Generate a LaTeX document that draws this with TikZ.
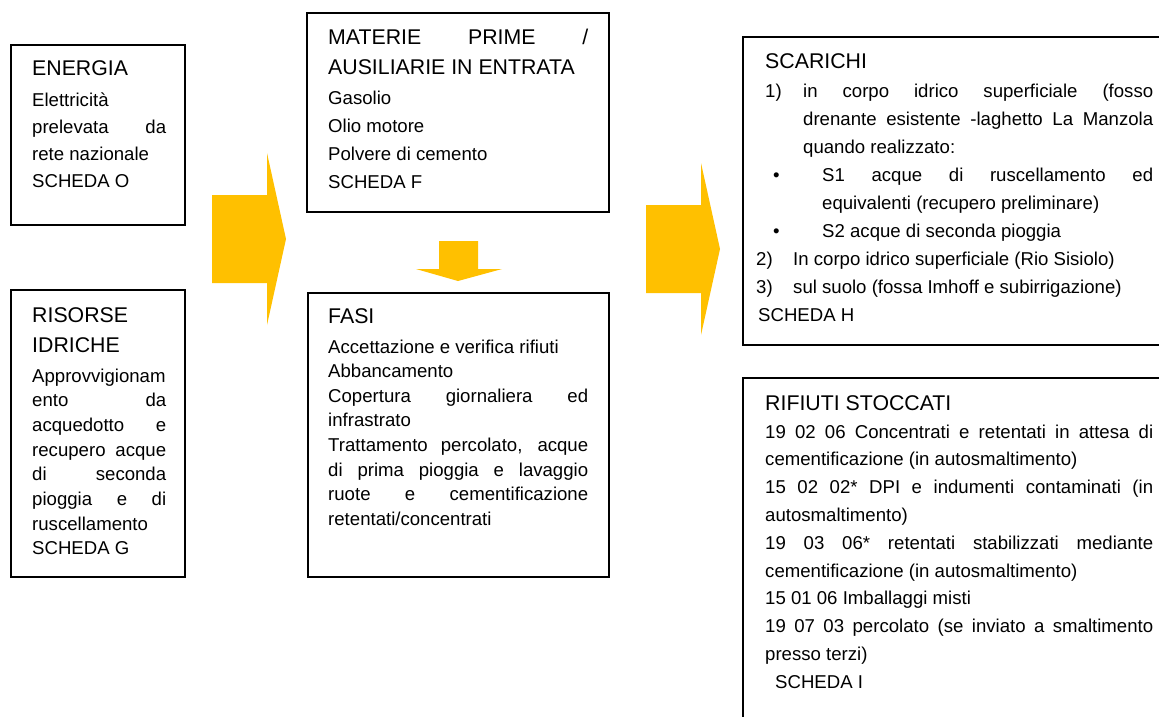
\documentclass[tikz,border=0pt]{standalone}
\usepackage{fontspec}
\setmainfont{Liberation Sans}
\definecolor{gold}{HTML}{FFC000}
\newcommand\hfont{\fontsize{21.3pt}{30pt}\selectfont}
\newcommand\bfont[1]{\fontsize{18.6pt}{#1}\selectfont}
\newcommand\jline[1]{\hbox to\hsize{#1}}
\newcommand\pline[1]{\hbox{#1}}
\newcommand\jrow[4]{\hbox to\hsize{\hbox to #3{\hskip #1\relax #2\hfil}\hbox to \dimexpr\hsize-#3\relax{#4}}}
\newcommand\prow[4]{\hbox{\hbox to #3{\hskip #1\relax #2\hfil}#4}}
\newcommand\blk[2]{\vtop{\hsize=#1\lineskiplimit=-\maxdimen\lineskip=0pt\parindent=0pt #2}}
\tikzset{
  box/.style={draw=black, line width=1.2pt, inner sep=0pt, rectangle},
  txt/.style={inner sep=0pt, anchor=base west},
  barrow/.style={fill=gold, draw=none}
}
\begin{document}
\begin{tikzpicture}[x=1pt,y=-1pt]
\useasboundingbox (0,0) rectangle (1159,717);
\clip (0,0) rectangle (1159,717);
\fill[white] (0,0) rectangle (1159,717);

% boxes
\node[box, minimum width=174pt, minimum height=180pt] (energia) at (98,135) {};
\node[box, minimum width=174pt, minimum height=287pt] (risorse) at (98,433.5) {};
\node[box, minimum width=302pt, minimum height=199pt] (materie) at (458,112.5) {};
\node[box, minimum width=301pt, minimum height=284pt] (fasi) at (458.5,435) {};
\node[box, minimum width=427pt, minimum height=308pt] (scarichi) at (956.5,191) {};
\node[box, minimum width=427pt, minimum height=352pt] (rifiuti) at (956.5,554) {};

% block arrows
\fill[barrow] (212,195) -- (267,195) -- (267,153) -- (286,239) -- (267,325) -- (267,283) -- (212,283) -- cycle;
\fill[barrow] (439,241) -- (478,241) -- (478,269) -- (502,269) -- (458,281) -- (416,269) -- (439,269) -- cycle;
\fill[barrow] (646,205) -- (701,205) -- (701,163) -- (720,249) -- (701,335) -- (701,293) -- (646,293) -- cycle;

% texts
\node[txt] (tenergia) at (32,75) {\blk{134pt}{%
  \hfont\pline{ENERGIA}%
  \bfont{27.3pt}\vskip3.7pt
  \pline{Elettricità}
  \jline{prelevata da}
  \pline{rete nazionale}
  \pline{SCHEDA O}}};

\node[txt] (trisorse) at (32,322) {\blk{134pt}{%
  \hfont\pline{RISORSE}
  \pline{IDRICHE}%
  \bfont{24.7pt}\vskip5.3pt
  \pline{Approvvigionam}
  \jline{ento da}
  \jline{acquedotto e}
  \jline{recupero acque}
  \jline{di seconda}
  \jline{pioggia e di}
  \pline{ruscellamento}
  \pline{SCHEDA G}}};

\node[txt] (tmaterie) at (328,45) {\blk{260pt}{%
  \hfont\jline{MATERIE PRIME /}
  \pline{AUSILIARIE IN ENTRATA}%
  \bfont{27.7pt}\vskip2.3pt
  \pline{Gasolio}
  \pline{Olio motore}
  \pline{Polvere di cemento}
  \pline{SCHEDA F}}};

\node[txt] (tfasi) at (328,323) {\blk{260pt}{%
  \hfont\pline{FASI}%
  \bfont{24.6pt}\vskip5.4pt
  \pline{Accettazione e verifica rifiuti}
  \pline{Abbancamento}
  \jline{Copertura giornaliera ed}
  \pline{infrastrato}
  \jline{Trattamento percolato, acque}
  \jline{di prima pioggia e lavaggio}
  \jline{ruote e cementificazione}
  \pline{retentati/concentrati}}};

\node[txt] (tscarichi) at (756,68) {\blk{397pt}{%
  \hfont\pline{\hskip9pt SCARICHI}%
  \bfont{28.1pt}\vskip0.9pt
  \jrow{9pt}{1)}{47pt}{in corpo idrico superficiale (fosso}
  \jrow{0pt}{}{47pt}{drenante esistente -laghetto La Manzola}
  \prow{0pt}{}{47pt}{quando realizzato:}
  \jrow{17pt}{\textbullet}{66pt}{S1 acque di ruscellamento ed}
  \prow{0pt}{}{66pt}{equivalenti (recupero preliminare)}
  \prow{17pt}{\textbullet}{66pt}{S2 acque di seconda pioggia}
  \prow{0pt}{2)}{37pt}{In corpo idrico superficiale (Rio Sisiolo)}
  \prow{0pt}{3)}{37pt}{sul suolo (fossa Imhoff e subirrigazione)}
  \pline{\hskip2pt SCHEDA H}}};

\node[txt] (trifiuti) at (765,410) {\blk{388pt}{%
  \hfont\pline{RIFIUTI STOCCATI}%
  \bfont{27.8pt}\vskip0.2pt
  \jline{19 02 06 Concentrati e retentati in attesa di}
  \pline{cementificazione (in autosmaltimento)}
  \jline{15 02 02* DPI e indumenti contaminati (in}
  \pline{autosmaltimento)}
  \jline{19 03 06* retentati stabilizzati mediante}
  \pline{cementificazione (in autosmaltimento)}
  \pline{15 01 06 Imballaggi misti}
  \jline{19 07 03 percolato (se inviato a smaltimento}
  \pline{presso terzi)}
  \pline{\hskip10pt SCHEDA I}}};
\end{tikzpicture}
\end{document}
